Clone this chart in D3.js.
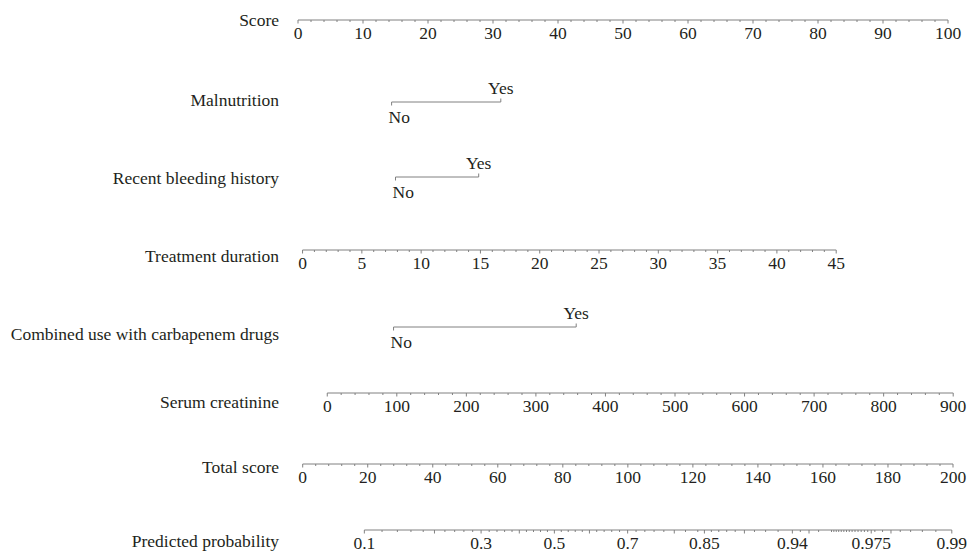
<!DOCTYPE html>
<html>
<head>
<meta charset="utf-8">
<script src="https://cdn.jsdelivr.net/npm/d3@7/dist/d3.min.js"></script>
<style>
  html, body { margin: 0; padding: 0; background: #fff; }
  svg { display: block; }
</style>
</head>
<body>
<svg id="nomo" width="969" height="552"></svg>
<script>
// ---- Nomogram data ----------------------------------------------------
// Points axis
const scoreLabels = [0, 10, 20, 30, 40, 50, 60, 70, 80, 90, 100];
const scoreMinorStep = 2;

// Categorical predictors: level names and their points
const malnutritionLevels = ["No", "Yes"];
const malnutritionPoints = [14.4, 31.2];

const bleedingLevels = ["No", "Yes"];
const bleedingPoints = [15.0, 27.8];

const carbapenemLevels = ["No", "Yes"];
const carbapenemPoints = [14.7, 42.8];

// Continuous predictors: value range and points at each end
const durationLabels = [0, 5, 10, 15, 20, 25, 30, 35, 40, 45];
const durationRange = [0, 45];
const durationPoints = [0.7, 82.8];
const durationMinorStep = 1;

const creatinineLabels = [0, 100, 200, 300, 400, 500, 600, 700, 800, 900];
const creatinineRange = [0, 900];
const creatininePoints = [4.5, 100.8];
const creatinineMinorStep = 20;

// Total points axis
const totalLabels = [0, 20, 40, 60, 80, 100, 120, 140, 160, 180, 200];
const totalMinorStep = 4;

// Predicted probability: total points = lpIntercept + lpSlope * logit(p)
const lpIntercept = 77.4;
const lpSlope = 26.6;
const probLabels = [0.1, 0.3, 0.5, 0.7, 0.85, 0.94, 0.975, 0.99];
const probMajorUnlabeled = [0.2, 0.4, 0.6, 0.8, 0.9, 0.95, 0.98];
// minor tick segments: [from, to, step]
const probMinorSegments = [
  [0.12, 0.84, 0.02],
  [0.86, 0.93, 0.01],
  [0.945, 0.955, 0.005],
  [0.961, 0.974, 0.001],
  [0.976, 0.988, 0.002]
];

// ---- Layout -----------------------------------------------------------
const svg = d3.select("#nomo");
const FONT = "'Liberation Serif', 'Times New Roman', serif";
const FS = 17.5;
const LINE = "#808080";
const TEXT = "#231f20";
const nameX = 279;
const majorLen = 3.5, minorLen = 2;
const labelDy = 18.5;

const rows = {
  score:       { line: 20,  name: 20,  title: "Score" },
  malnutrition:{ line: 102, name: 100, title: "Malnutrition" },
  bleeding:    { line: 177, name: 178, title: "Recent bleeding history" },
  duration:    { line: 250, name: 256, title: "Treatment duration" },
  carbapenem:  { line: 327, name: 334, title: "Combined use with carbapenem drugs" },
  creatinine:  { line: 393, name: 402, title: "Serum creatinine" },
  total:       { line: 464, name: 467, title: "Total score" },
  prob:        { line: 530, name: 541, title: "Predicted probability" }
};

// Points -> pixels
const pointsX = d3.scaleLinear().domain([0, 100]).range([298, 948]);
// Total points -> pixels
const totalX = d3.scaleLinear().domain([0, 200]).range([302.7, 953]);

const logit = p => Math.log(p / (1 - p));
const probToTotal = d3.scaleLinear().domain([0, 1]).range([lpIntercept, lpIntercept + lpSlope]);
const probX = p => totalX(probToTotal(logit(p)));

// Variable names
svg.append("g")
  .attr("font-family", FONT)
  .attr("font-size", FS)
  .attr("fill", TEXT)
  .attr("text-anchor", "end")
  .selectAll("text")
  .data(Object.values(rows))
  .join("text")
  .attr("x", nameX)
  .attr("y", d => d.name + 6)
  .text(d => d.title);

// Draws a continuous axis: line, minor ticks, major ticks, labels
function drawAxis(y, xf, majors, minors, labels, fmt) {
  const g = svg.append("g");
  const all = majors.concat(minors);
  const lo = d3.min(all), hi = d3.max(all);
  g.append("line")
    .attr("x1", xf(lo)).attr("x2", xf(hi))
    .attr("y1", y).attr("y2", y)
    .attr("stroke", LINE).attr("stroke-width", 1);
  g.selectAll("line.minor")
    .data(minors)
    .join("line")
    .attr("class", "minor")
    .attr("x1", d => xf(d)).attr("x2", d => xf(d))
    .attr("y1", y).attr("y2", y + minorLen)
    .attr("stroke", LINE).attr("stroke-width", 1);
  g.selectAll("line.major")
    .data(majors)
    .join("line")
    .attr("class", "major")
    .attr("x1", d => xf(d)).attr("x2", d => xf(d))
    .attr("y1", y).attr("y2", y + majorLen)
    .attr("stroke", LINE).attr("stroke-width", 1);
  g.selectAll("text")
    .data(labels)
    .join("text")
    .attr("x", d => xf(d))
    .attr("y", y + labelDy)
    .attr("text-anchor", "middle")
    .attr("font-family", FONT)
    .attr("font-size", FS)
    .attr("fill", TEXT)
    .text(fmt || (d => d));
}

// Draws a categorical predictor: No below (tick down), Yes above (tick up)
function drawCategory(y, levels, points) {
  const g = svg.append("g");
  const xs = points.map(p => pointsX(p));
  g.append("line")
    .attr("x1", d3.min(xs)).attr("x2", d3.max(xs))
    .attr("y1", y).attr("y2", y)
    .attr("stroke", LINE).attr("stroke-width", 1);
  levels.forEach((lev, i) => {
    const x = xs[i];
    const down = i % 2 === 0;
    g.append("line")
      .attr("x1", x).attr("x2", x)
      .attr("y1", y).attr("y2", down ? y + majorLen : y - majorLen)
      .attr("stroke", LINE).attr("stroke-width", 1);
    g.append("text")
      .attr("x", down ? x - 3 : x)
      .attr("y", down ? y + 21 : y - 8)
      .attr("text-anchor", down ? "start" : "middle")
      .attr("font-family", FONT)
      .attr("font-size", FS)
      .attr("fill", TEXT)
      .text(lev);
  });
}

const notIn = arr => v => !arr.some(a => Math.abs(a - v) < 1e-9);

// Score (points) axis
{
  const minors = d3.range(0, 100 + 1e-9, scoreMinorStep).filter(notIn(scoreLabels));
  drawAxis(rows.score.line, pointsX, scoreLabels, minors, scoreLabels);
}

drawCategory(rows.malnutrition.line, malnutritionLevels, malnutritionPoints);
drawCategory(rows.bleeding.line, bleedingLevels, bleedingPoints);

// Treatment duration axis
{
  const toPts = d3.scaleLinear().domain(durationRange).range(durationPoints);
  const xf = v => pointsX(toPts(v));
  const minors = d3.range(durationRange[0], durationRange[1] + 1e-9, durationMinorStep).filter(notIn(durationLabels));
  drawAxis(rows.duration.line, xf, durationLabels, minors, durationLabels);
}

drawCategory(rows.carbapenem.line, carbapenemLevels, carbapenemPoints);

// Serum creatinine axis
{
  const toPts = d3.scaleLinear().domain(creatinineRange).range(creatininePoints);
  const xf = v => pointsX(toPts(v));
  const minors = d3.range(creatinineRange[0], creatinineRange[1] + 1e-9, creatinineMinorStep).filter(notIn(creatinineLabels));
  drawAxis(rows.creatinine.line, xf, creatinineLabels, minors, creatinineLabels);
}

// Total score axis
{
  const minors = d3.range(0, 200 + 1e-9, totalMinorStep).filter(notIn(totalLabels));
  drawAxis(rows.total.line, totalX, totalLabels, minors, totalLabels);
}

// Predicted probability axis
{
  let minors = [];
  probMinorSegments.forEach(([a, b, s]) => {
    minors = minors.concat(d3.range(a, b + s / 2, s).map(v => +v.toFixed(4)));
  });
  const majors = probLabels.concat(probMajorUnlabeled);
  minors = minors.filter(notIn(majors));
  drawAxis(rows.prob.line, probX, majors, minors, probLabels, d => String(d));
}
</script>
</body>
</html>
